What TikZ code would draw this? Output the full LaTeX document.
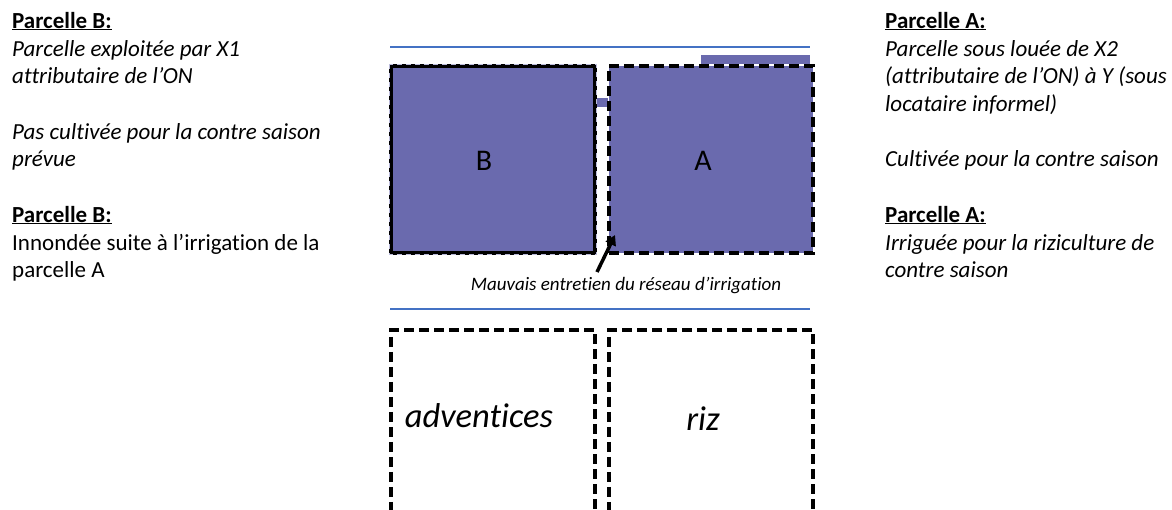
\documentclass[tikz,border=0pt]{standalone}
\usepackage{fontspec}
\setmainfont{Carlito}[Ligatures=NoCommon]
\usetikzlibrary{arrows.meta}
\definecolor{parcel}{RGB}{106,106,174}
\definecolor{lineblue}{RGB}{68,114,196}
\begin{document}
\begin{tikzpicture}[x=1pt,y=-1pt,
  plotbox/.style={draw=black, line width=3.5pt, minimum width=204pt, minimum height=187pt, inner sep=0pt, anchor=north west, line join=miter},
  dashbox/.style={plotbox, dash pattern=on 10pt off 5pt},
  lowbox/.style={dashbox, minimum height=260pt},
  body/.style={anchor=base west, inner sep=0pt, font=\fontsize{23}{28}\selectfont},
  head/.style={body, font=\fontsize{23}{28}\selectfont\bfseries},
  big/.style={anchor=base, inner sep=0pt, font=\fontsize{30}{34}\selectfont},
  bigit/.style={anchor=base, inner sep=0pt, font=\fontsize{34.5}{40}\selectfont\itshape},
  note/.style={anchor=base, inner sep=0pt, font=\fontsize{19}{22}\selectfont\itshape},
  sep/.style={draw=lineblue, line width=1.3pt},
  arr/.style={line width=3.5pt, -{Triangle[length=10pt,width=11pt]}}
]
\useasboundingbox (0,0) rectangle (1172,509);
\clip (0,0) rectangle (1172,509);
\fill[white] (0,0) rectangle (1172,509);

% separators
\draw[sep] (390,47) -- (810,47);
\draw[sep] (390,309) -- (810,309);

% water channels
\fill[parcel] (701,55) rectangle (810,64);
\fill[parcel] (592,98) rectangle (608,107);

% upper plots
\node[plotbox, fill=parcel] (boxB) at (389,64) {};
\draw[parcel!45!white, line width=0.8pt, dash pattern=on 5pt off 4pt] (boxB.north west) rectangle (boxB.south east);
\node[dashbox, fill=parcel] (boxA) at (607,64) {};
\node[big] (labB) at (484,170) {B};
\node[big] (labA) at (703,170) {A};

% arrow and note
\coordinate (arrtail) at (597,272);
\coordinate (arrhead) at (615,235);
\draw[arr] (arrtail) -- (arrhead);
\node[note] (noteirr) at (626,290) {Mauvais entretien du réseau d’irrigation};

% lower plots
\node[lowbox] (lowB) at (389,328) {};
\node[lowbox] (lowA) at (607,328) {};
\node[bigit] (adv) at (479,427) {adventices};
\node[bigit] (riz) at (703,430) {riz};

% left text
\node[head] (l1) at (12,28) {\underline{Parcelle B:}};
\node[body] (l2) at (12,56) {\itshape Parcelle exploitée par X1};
\node[body] (l3) at (12,83) {\itshape attributaire de l’ON};
\node[body] (l4) at (12,139) {\itshape Pas cultivée pour la contre saison};
\node[body] (l5) at (12,166) {\itshape prévue};
\node[head] (l6) at (12,222) {\underline{Parcelle B:}};
\node[body] (l7) at (12,250) {Innondée suite à l’irrigation de la};
\node[body] (l8) at (12,277) {parcelle A};

% right text
\node[head] (r1) at (885,28) {\underline{Parcelle A:}};
\node[body] (r2) at (885,56) {\itshape Parcelle sous louée de X2};
\node[body] (r3) at (885,83) {\itshape (attributaire de l’ON) à Y (sous};
\node[body] (r4) at (885,111) {\itshape locataire informel)};
\node[body] (r5) at (885,166) {\itshape Cultivée pour la contre saison};
\node[head] (r6) at (885,222) {\underline{Parcelle A:}};
\node[body] (r7) at (885,250) {\itshape Irriguée pour la riziculture de};
\node[body] (r8) at (885,277) {\itshape contre saison};
\end{tikzpicture}
\end{document}
